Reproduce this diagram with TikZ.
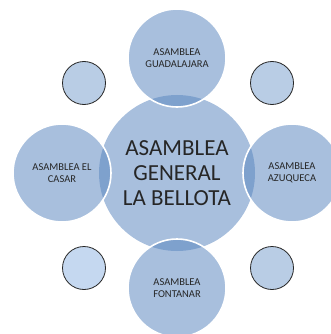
\documentclass[tikz,border=0pt]{standalone}
\usepackage{fontspec}
\setmainfont{Carlito}
\definecolor{bubble}{RGB}{90,134,191}
\definecolor{smallfill}{RGB}{185,205,229}
\definecolor{smallfillb}{RGB}{197,216,240}
\definecolor{txt}{RGB}{38,38,38}
\tikzset{
  bigc/.style={circle, fill=bubble, fill opacity=0.53, text opacity=1, minimum size=156pt, inner sep=0pt, align=center, text=txt, font=\fontsize{23}{25}\selectfont},
  satc/.style={circle, fill=bubble, fill opacity=0.53, text opacity=1, draw=white, draw opacity=1, line width=1.6pt, minimum size=98pt, inner sep=0pt, align=center, text=txt, font=\fontsize{10.5}{12.5}\selectfont},
  smallc/.style={circle, fill=smallfill, draw=black!85, line width=0.8pt, minimum size=43pt, inner sep=0pt}
}
\begin{document}
\begin{tikzpicture}[x=1pt,y=-1pt]
\useasboundingbox (0,0) rectangle (331,334);
\clip (0,0) rectangle (331,334);
\node[bigc] (c) at (177,173) {ASAMBLEA\\GENERAL\\LA BELLOTA};
\node[satc] (t) at (177,58) {ASAMBLEA\\GUADALAJARA};
\node[satc] (l) at (62,173) {ASAMBLEA EL\\CASAR};
\node[satc] (r) at (292,173) {ASAMBLEA\\AZUQUECA};
\node[satc] (b) at (177,288) {ASAMBLEA\\FONTANAR};
\node[smallc] (s1) at (84,83) {};
\node[smallc] (s2) at (272,83) {};
\node[smallc, fill=smallfillb] (s3) at (84,268) {};
\node[smallc] (s4) at (272,268) {};
\end{tikzpicture}
\end{document}
